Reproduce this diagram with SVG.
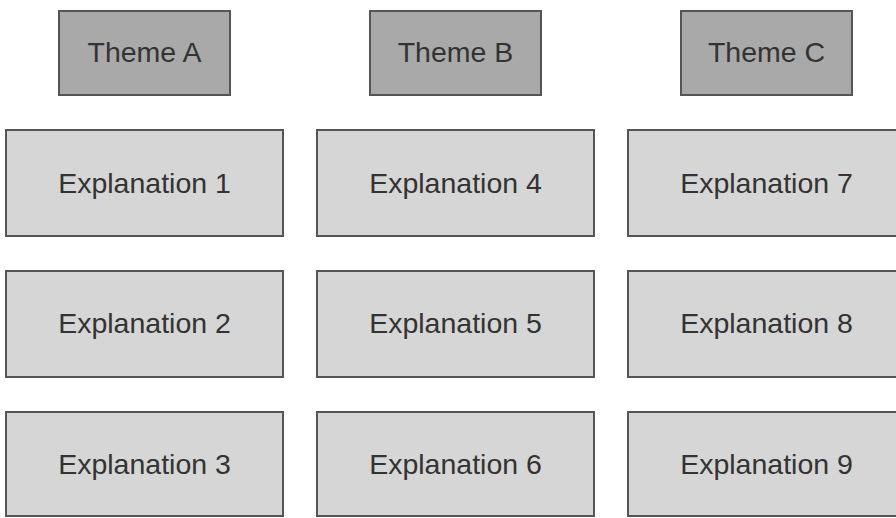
<svg xmlns="http://www.w3.org/2000/svg" width="896" height="518" viewBox="0 0 896 518">
<style>
  .theme rect { fill: #a9a9a9; stroke: #555; stroke-width: 2; }
  .expl rect { fill: #d6d6d6; stroke: #555; stroke-width: 2; }
  text { font-family: "Liberation Sans", Arial, sans-serif; font-size: 28.5px; fill: #333; text-anchor: middle; }
</style>
<rect width="896" height="518" fill="#fff"/>
<g id="themeA" class="theme"><rect x="59" y="11" width="171" height="84"/><text x="144.5" y="62">Theme A</text></g>
<g id="themeB" class="theme"><rect x="370" y="11" width="171" height="84"/><text x="455.5" y="62">Theme B</text></g>
<g id="themeC" class="theme"><rect x="681" y="11" width="171" height="84"/><text x="766.5" y="62">Theme C</text></g>
<g id="expl1" class="expl"><rect x="6" y="130" width="277" height="106"/><text x="144.5" y="193">Explanation 1</text></g>
<g id="expl4" class="expl"><rect x="317" y="130" width="277" height="106"/><text x="455.5" y="193">Explanation 4</text></g>
<g id="expl7" class="expl"><rect x="628" y="130" width="277" height="106"/><text x="766.5" y="193">Explanation 7</text></g>
<g id="expl2" class="expl"><rect x="6" y="271" width="277" height="106"/><text x="144.5" y="333">Explanation 2</text></g>
<g id="expl5" class="expl"><rect x="317" y="271" width="277" height="106"/><text x="455.5" y="333">Explanation 5</text></g>
<g id="expl8" class="expl"><rect x="628" y="271" width="277" height="106"/><text x="766.5" y="333">Explanation 8</text></g>
<g id="expl3" class="expl"><rect x="6" y="412" width="277" height="104"/><text x="144.5" y="474">Explanation 3</text></g>
<g id="expl6" class="expl"><rect x="317" y="412" width="277" height="104"/><text x="455.5" y="474">Explanation 6</text></g>
<g id="expl9" class="expl"><rect x="628" y="412" width="277" height="104"/><text x="766.5" y="474">Explanation 9</text></g>
<g id="connectors"></g>
</svg>
